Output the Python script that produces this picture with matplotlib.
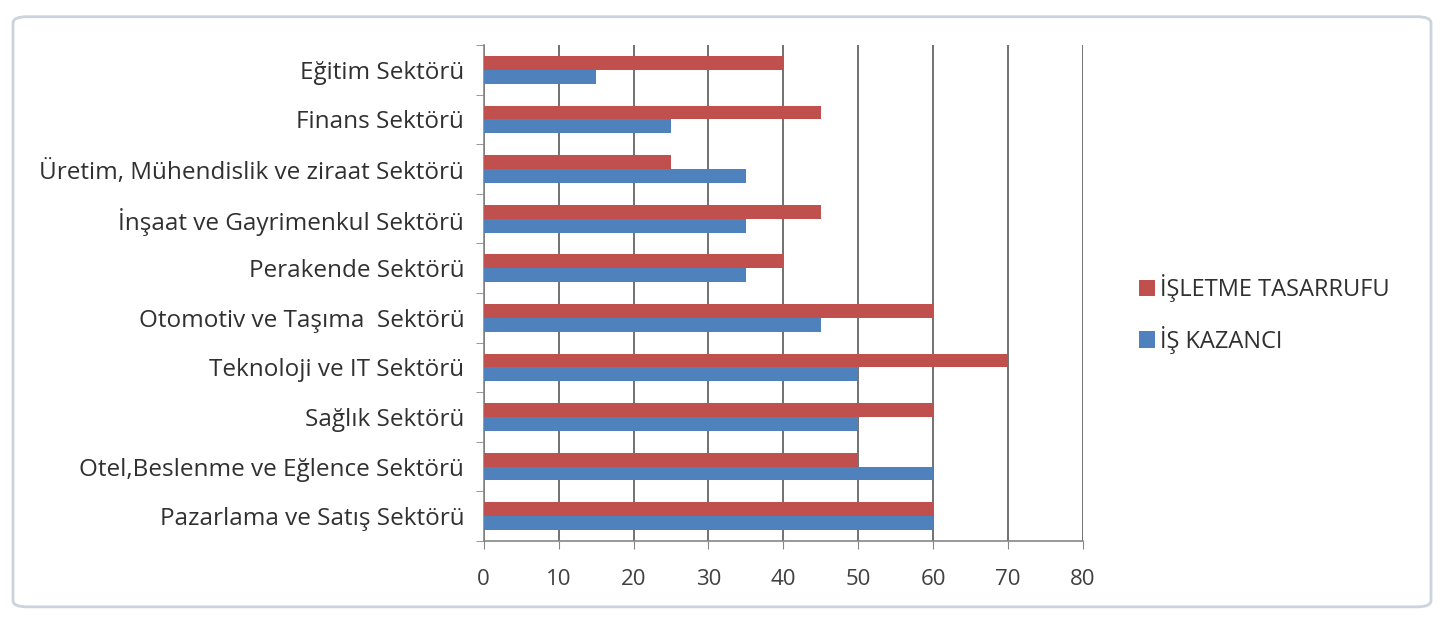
import matplotlib
matplotlib.use("Agg")
import matplotlib.pyplot as plt
from matplotlib.patches import FancyBboxPatch
import numpy as np

categories = [
    "Pazarlama ve Satış Sektörü",
    "Otel,Beslenme ve Eğlence Sektörü",
    "Sağlık Sektörü",
    "Teknoloji ve IT Sektörü",
    "Otomotiv ve Taşıma  Sektörü",
    "Perakende Sektörü",
    "İnşaat ve Gayrimenkul Sektörü",
    "Üretim, Mühendislik ve ziraat Sektörü",
    "Finans Sektörü",
    "Eğitim Sektörü",
]
isletme_tasarrufu = [60, 50, 60, 70, 60, 40, 45, 25, 45, 40]
is_kazanci = [60, 60, 50, 50, 45, 35, 35, 35, 25, 15]
series_names = ["İŞLETME TASARRUFU", "İŞ KAZANCI"]
x_ticks = [0, 10, 20, 30, 40, 50, 60, 70, 80]

RED = "#C0504D"
BLUE = "#4F81BD"

plt.rcParams['font.family'] = ['Open Sans', 'DejaVu Sans']

fig = plt.figure(figsize=(14.44, 6.18), dpi=100)
fig.patch.set_facecolor("white")

# outer chart frame
frame = FancyBboxPatch((0.009, 0.018), 0.982, 0.955,
                       boxstyle="round,pad=0,rounding_size=0.01",
                       transform=fig.transFigure, facecolor="none",
                       edgecolor="#CBD3DC", linewidth=2.0)
fig.add_artist(frame)

ax = fig.add_axes([0.335, 0.1246, 0.415, 0.8024])
y = np.arange(len(categories))
h = 0.28
ax.barh(y + h / 2, isletme_tasarrufu, height=h, color=RED, label=series_names[0], zorder=3)
ax.barh(y - h / 2, is_kazanci, height=h, color=BLUE, label=series_names[1], zorder=3)

ax.set_xlim(0, 80)
ax.set_ylim(-0.5, len(categories) - 0.5)
ax.set_xticks(x_ticks)
ax.set_xticklabels([str(t) for t in x_ticks], fontsize=16, color="#404040")
ax.set_yticks(y)
ax.set_yticklabels(categories, fontsize=17.5, color="#303030")
ax.tick_params(axis="y", length=0, pad=14)
ax.set_yticks(np.arange(-0.5, len(categories), 1), minor=True)
ax.tick_params(axis="y", which="minor", length=6, color="#868686")
ax.tick_params(axis="x", length=6, color="#868686", pad=14)
ax.xaxis.grid(True, color="#595959", linewidth=1.2, zorder=0)
for s in ["top", "right"]:
    ax.spines[s].set_visible(False)
for s in ["left", "bottom"]:
    ax.spines[s].set_color("#868686")
    ax.spines[s].set_linewidth(1.2)

handles, labels = ax.get_legend_handles_labels()
leg = fig.legend(handles, labels, loc="center left", bbox_to_anchor=(0.774, 0.492),
                 frameon=False, fontsize=17, handlelength=0.7, handleheight=0.7,
                 handletextpad=0.2, labelspacing=1.0)
for t in leg.get_texts():
    t.set_color("#303030")

fig.savefig("out.png", dpi=100)
